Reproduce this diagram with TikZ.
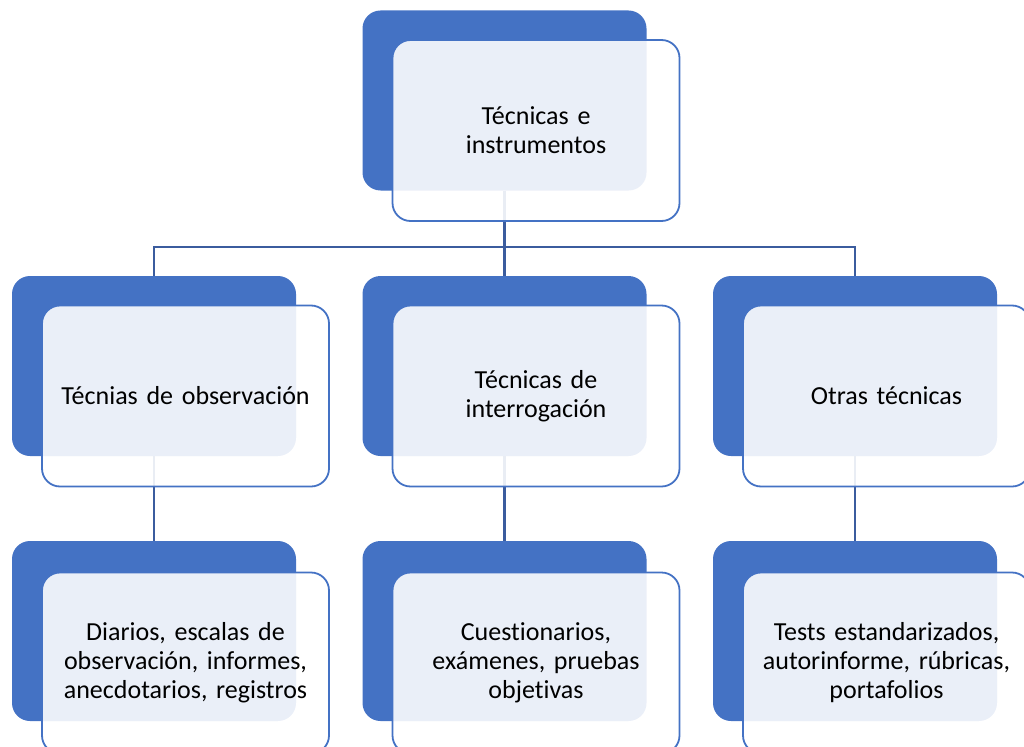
\documentclass[tikz,border=0pt]{standalone}
\usepackage{fontspec}
\setmainfont{Carlito}[Ligatures=NoCommon]
\usetikzlibrary{positioning}
\definecolor{azul}{HTML}{4472C4}
\definecolor{linea}{HTML}{3B5C9E}

\begin{document}
\begin{tikzpicture}
  [x=1pt,y=-1pt,
   fondo/.style={fill=azul,rounded corners=18pt,minimum width=284pt,minimum height=180pt,inner sep=0pt},
   caja/.style={draw=azul,line width=1.8pt,fill=white,fill opacity=0.89,text opacity=1,rounded corners=18pt,
                minimum width=287pt,minimum height=181pt,align=center,text width=280pt,inner sep=0pt,
                font=\fontsize{26}{29}\selectfont},
   conector/.style={draw=linea,line width=2.2pt}]
  \useasboundingbox (0,0) rectangle (1024,746);

  \node[fondo] (fte) at (504.5,100.5) {};
  \node[fondo] (fob) at (154,366)   {};
  \node[fondo] (fin) at (504.5,366) {};
  \node[fondo] (fot) at (855,366)   {};
  \node[fondo] (fdi) at (154,631)   {};
  \node[fondo] (fcu) at (504.5,631) {};
  \node[fondo] (fts) at (855,631)   {};

  \coordinate (bus) at (504.5,247);
  \draw[conector] (fte.south) -- (bus);
  \draw[conector] (fob.north) |- (bus) -| (fot.north);
  \draw[conector] (bus) -- (fin.north);
  \draw[conector] (fob.south) -- (fdi.north);
  \draw[conector] (fin.south) -- (fcu.north);
  \draw[conector] (fot.south) -- (fts.north);

  \node[caja] (tec) at (536,130.5)  {Técnicas e\\instrumentos};
  \node[caja] (obs) at (185.5,396)  {Técnias de observación};
  \node[caja] (int) at (536,396)    {Técnicas de\\interrogación};
  \node[caja] (otr) at (886.5,396)  {Otras técnicas};
  \node[caja] (dia) at (185.5,663)  {Diarios, escalas de\\observación, informes,\\anecdotarios, registros};
  \node[caja] (cue) at (536,663)    {Cuestionarios,\\exámenes, pruebas\\objetivas};
  \node[caja] (tst) at (886.5,663)  {Tests estandarizados,\\autorinforme, rúbricas,\\portafolios};

\end{tikzpicture}
\end{document}
